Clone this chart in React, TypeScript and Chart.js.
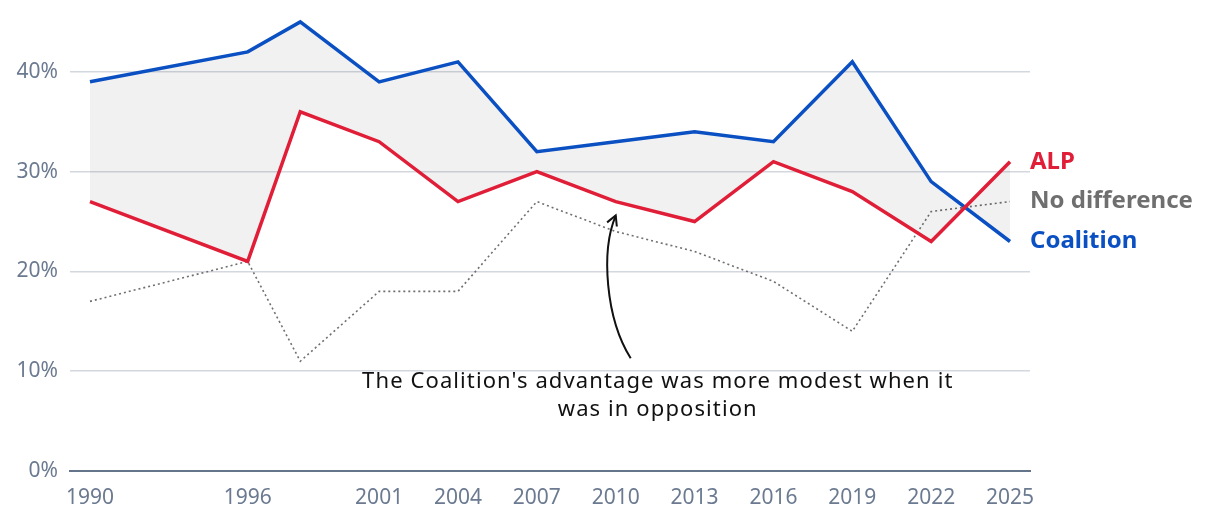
import React, { useEffect, useRef } from "react";
import { Chart, registerables } from "chart.js";

Chart.register(...registerables);

const years = [1990, 1996, 1998, 2001, 2004, 2007, 2010, 2013, 2016, 2019, 2022, 2025];
const tickYears = [1990, 1996, 2001, 2004, 2007, 2010, 2013, 2016, 2019, 2022, 2025];
const coalition = [39, 42, 45, 39, 41, 32, 33, 34, 33, 41, 29, 23];
const alp = [27, 21, 36, 33, 27, 30, 27, 25, 31, 28, 23, 31];
const noDifference = [17, 21, 11, 18, 18, 27, 24, 22, 19, 14, 26, 27];
const yTicks = [0, 10, 20, 30, 40];

const seriesNames = ["Coalition", "ALP", "No difference"];
const annotationLines = [
  "The Coalition's advantage was more modest when it",
  "was in opposition",
];
// annotation anchors in data units (year, percent)
const annotationTextPos = { x: 2011.6, y: 8.9 };
const arrowStart = { x: 2010.57, y: 11.3 };
const arrowEnd = { x: 2010.0, y: 25.6 };

const FONT = "'Noto Sans', sans-serif";
const BLUE = "#0a50c2";
const RED = "#e01e37";
const GREY = "#6f6f6f";
const TICK = "#6b7a90";

const toPts = (vals: number[]) => vals.map((v, i) => ({ x: years[i], y: v }));

const overlayPlugin = {
  id: "overlay",
  afterDatasetsDraw(chart: any) {
    const { ctx, scales } = chart;
    const xs = scales.x;
    const ys = scales.y;
    ctx.save();
    const lastIdx = years.length - 1;
    const labels = [
      { text: seriesNames[1], val: alp[lastIdx], color: RED },
      { text: seriesNames[2], val: noDifference[lastIdx], color: GREY },
      { text: seriesNames[0], val: coalition[lastIdx], color: BLUE },
    ];
    ctx.font = `bold 24px ${FONT}`;
    ctx.textAlign = "left";
    ctx.textBaseline = "middle";
    labels.forEach((l) => {
      ctx.fillStyle = l.color;
      ctx.fillText(l.text, chart.chartArea.right, ys.getPixelForValue(l.val));
    });

    // annotation text
    ctx.font = `22px ${FONT}`;
    try {
      (ctx as any).letterSpacing = "1.1px";
    } catch (e) {}
    ctx.fillStyle = "#111111";
    ctx.textAlign = "center";
    const tx = xs.getPixelForValue(annotationTextPos.x);
    const ty = ys.getPixelForValue(annotationTextPos.y);
    annotationLines.forEach((line, i) => {
      ctx.fillText(line, tx, ty + i * 28);
    });
    try {
      (ctx as any).letterSpacing = "0px";
    } catch (e) {}

    // arrow
    const x0 = xs.getPixelForValue(arrowStart.x);
    const y0 = ys.getPixelForValue(arrowStart.y);
    const x3 = xs.getPixelForValue(arrowEnd.x);
    const y3 = ys.getPixelForValue(arrowEnd.y);
    const dy = y3 - y0;
    const c1x = x0 - 25;
    const c1y = y0 + dy * 0.28;
    const c2x = x3 - 15;
    const c2y = y3 - dy * 0.25;
    ctx.strokeStyle = "#111111";
    ctx.lineWidth = 2;
    ctx.beginPath();
    ctx.moveTo(x0, y0);
    ctx.bezierCurveTo(c1x, c1y, c2x, c2y, x3, y3);
    ctx.stroke();
    const ang = Math.atan2(y3 - c2y, x3 - c2x);
    const len = 11;
    ctx.beginPath();
    ctx.moveTo(x3 + len * Math.cos(ang + Math.PI - 0.5), y3 + len * Math.sin(ang + Math.PI - 0.5));
    ctx.lineTo(x3, y3);
    ctx.lineTo(x3 + len * Math.cos(ang + Math.PI + 0.5), y3 + len * Math.sin(ang + Math.PI + 0.5));
    ctx.stroke();
    ctx.restore();
  },
};

export default function App() {
  const canvasRef = useRef<HTMLCanvasElement | null>(null);

  useEffect(() => {
    document.body.style.margin = "0";
    const canvas = canvasRef.current;
    if (!canvas) return;
    const chart = new Chart(canvas, {
      type: "line",
      data: {
        datasets: [
          {
            label: seriesNames[0],
            data: toPts(coalition),
            borderColor: BLUE,
            borderWidth: 3.5,
            pointRadius: 0,
            fill: { target: 1 },
            backgroundColor: "rgba(0,0,0,0.055)",
            order: 1,
            tension: 0,
            clip: false,
          },
          {
            label: seriesNames[1],
            data: toPts(alp),
            borderColor: RED,
            borderWidth: 3.5,
            pointRadius: 0,
            fill: false,
            order: 0,
            tension: 0,
            clip: false,
          },
          {
            label: seriesNames[2],
            data: toPts(noDifference),
            borderColor: GREY,
            borderWidth: 1.6,
            borderDash: [2, 3],
            pointRadius: 0,
            fill: false,
            order: 2,
            tension: 0,
            clip: false,
          },
        ],
      },
      options: {
        animation: false,
        responsive: false,
        maintainAspectRatio: false,
        layout: { padding: { left: 0, right: 190, top: 2, bottom: 0 } },
        plugins: {
          legend: { display: false },
          tooltip: { enabled: false },
        },
        scales: {
          x: {
            type: "linear",
            min: 1989.24,
            max: 2025.76,
            afterBuildTicks: (scale: any) => {
              scale.ticks = tickYears.map((v) => ({ value: v }));
            },
            afterFit: (scale: any) => {
              scale.height = 47;
              scale.paddingLeft = 0;
              scale.paddingRight = 0;
            },
            ticks: {
              autoSkip: false,
              maxRotation: 0,
              padding: 14,
              color: TICK,
              font: { family: FONT, size: 21 },
              callback: (v: any) => String(v),
            },
            grid: { display: false, drawTicks: false },
            border: { display: true, color: "#64748b", width: 2 },
          },
          y: {
            type: "linear",
            min: 0,
            max: 47,
            afterBuildTicks: (scale: any) => {
              scale.ticks = yTicks.map((v) => ({ value: v }));
            },
            afterFit: (scale: any) => {
              scale.width = 70;
              scale.paddingTop = 0;
              scale.paddingBottom = 0;
            },
            ticks: {
              padding: 12,
              color: TICK,
              font: { family: FONT, size: 21 },
              callback: (v: any) => `${v}%`,
            },
            grid: {
              drawTicks: false,
              color: (c: any) => (c.tick && c.tick.value === 0 ? "rgba(0,0,0,0)" : "#d3d8df"),
              lineWidth: 1.5,
            },
            border: { display: false },
          },
        },
      },
      plugins: [overlayPlugin],
    });
    return () => chart.destroy();
  }, []);

  return (
    <div style={{ position: "absolute", left: 0, top: 0, width: 1220, height: 518 }}>
      <canvas ref={canvasRef} width={1220} height={518} style={{ width: 1220, height: 518 }} />
    </div>
  );
}
